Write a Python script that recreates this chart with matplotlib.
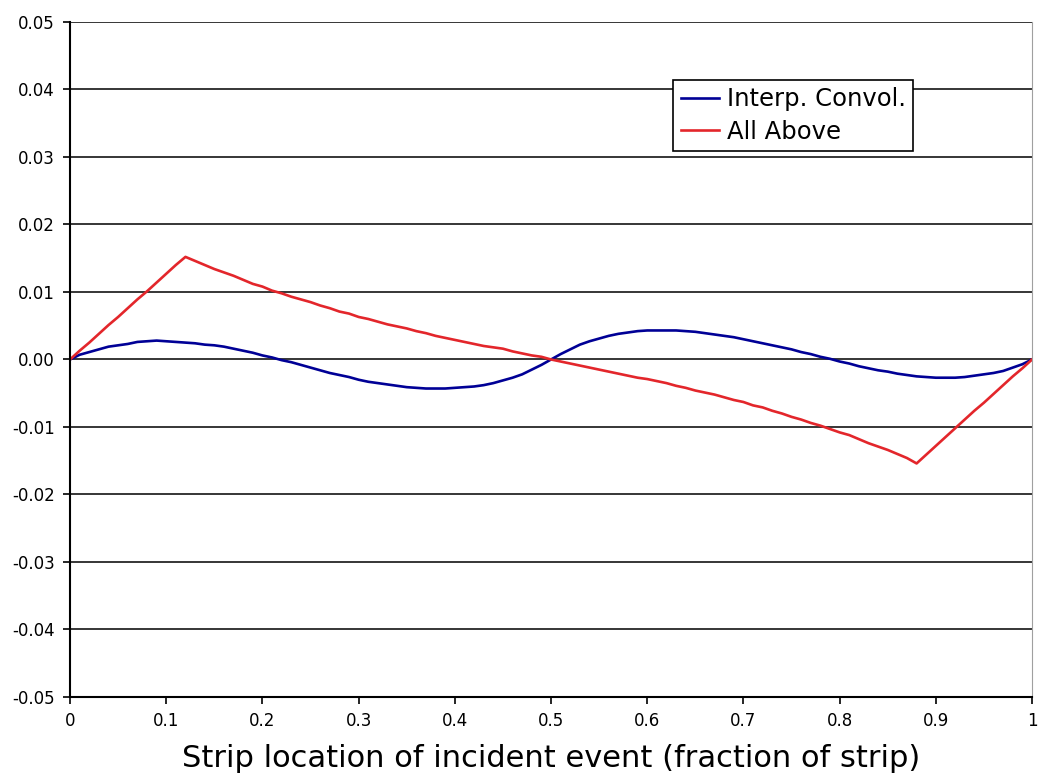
import numpy as np
from matplotlib import pyplot as plt

# fraction of strip, sampled every 0.01
x = np.round(np.arange(101) * 0.01, 2)

# Interp. Convol. residual
interp_convol = [
    0.0, 0.0007, 0.0011, 0.0015, 0.0019, 0.0021, 0.0023, 0.0026, 0.0027, 0.0028,
    0.0027, 0.0026, 0.0025, 0.0024, 0.0022, 0.0021, 0.0019, 0.0016, 0.0013, 0.0010,
    0.0006, 0.0003, -0.0001, -0.0004, -0.0008, -0.0012, -0.0016, -0.0020, -0.0023, -0.0026,
    -0.0030, -0.0033, -0.0035, -0.0037, -0.0039, -0.0041, -0.0042, -0.0043, -0.0043, -0.0043,
    -0.0042, -0.0041, -0.0040, -0.0038, -0.0035, -0.0031, -0.0027, -0.0022, -0.0015, -0.0008,
    0.0, 0.0008, 0.0015, 0.0022, 0.0027, 0.0031, 0.0035, 0.0038, 0.0040, 0.0042,
    0.0043, 0.0043, 0.0043, 0.0043, 0.0042, 0.0041, 0.0039, 0.0037, 0.0035, 0.0033,
    0.0030, 0.0027, 0.0024, 0.0021, 0.0018, 0.0015, 0.0011, 0.0008, 0.0004, 0.0001,
    -0.0003, -0.0006, -0.0010, -0.0013, -0.0016, -0.0018, -0.0021, -0.0023, -0.0025, -0.0026,
    -0.0027, -0.0027, -0.0027, -0.0026, -0.0024, -0.0022, -0.0020, -0.0017, -0.0012, -0.0007,
    0.0,
]

# All Above residual
all_above = [
    0.0, 0.0013, 0.0025, 0.0038, 0.0051, 0.0063, 0.0076, 0.0089, 0.0101, 0.0114,
    0.0127, 0.0140, 0.0152, 0.0146, 0.0140, 0.0134, 0.0129, 0.0124, 0.0118, 0.0112,
    0.0108, 0.0102, 0.0098, 0.0093, 0.0089, 0.0085, 0.0080, 0.0076, 0.0071, 0.0068,
    0.0063, 0.0060, 0.0056, 0.0052, 0.0049, 0.0046, 0.0042, 0.0039, 0.0035, 0.0032,
    0.0029, 0.0026, 0.0023, 0.0020, 0.0018, 0.0016, 0.0012, 0.0009, 0.0006, 0.0004,
    0.0, -0.0003, -0.0006, -0.0009, -0.0012, -0.0015, -0.0018, -0.0021, -0.0024, -0.0027,
    -0.0029, -0.0032, -0.0035, -0.0039, -0.0042, -0.0046, -0.0049, -0.0052, -0.0056, -0.0060,
    -0.0063, -0.0068, -0.0071, -0.0076, -0.0080, -0.0085, -0.0089, -0.0094, -0.0098, -0.0103,
    -0.0108, -0.0112, -0.0118, -0.0124, -0.0129, -0.0134, -0.0140, -0.0146, -0.0154, -0.0141,
    -0.0128, -0.0115, -0.0102, -0.0089, -0.0076, -0.0064, -0.0051, -0.0038, -0.0025, -0.0013,
    0.0,
]

xticks = [0, 0.1, 0.2, 0.3, 0.4, 0.5, 0.6, 0.7, 0.8, 0.9, 1]
xtick_labels = ["0", "0.1", "0.2", "0.3", "0.4", "0.5", "0.6", "0.7", "0.8", "0.9", "1"]
yticks = np.round(np.arange(-0.05, 0.0501, 0.01), 2)
ytick_labels = [f"{v:.2f}".replace("-0.00", "0.00") for v in yticks]

plt.rcParams['font.family'] = ['DejaVu Sans']

fig = plt.figure(figsize=(10.5, 7.82), dpi=100)
ax = fig.add_axes([0.0667, 0.1087, 0.9162, 0.8632])

ax.plot(x, interp_convol, color='#000096', lw=1.9, label='Interp. Convol.')
ax.plot(x, all_above, color='#E3262B', lw=1.9, label='All Above')

ax.set_xlim(0, 1)
ax.set_ylim(-0.05, 0.05)
ax.set_xticks(xticks)
ax.set_xticklabels(xtick_labels, fontsize=12)
ax.set_yticks(yticks)
ax.set_yticklabels(ytick_labels, fontsize=12)
ax.tick_params(direction='out', length=5, width=1.2, pad=6)

ax.yaxis.grid(True, color='black', lw=1.1)
ax.set_axisbelow(True)

ax.spines['top'].set_visible(False)
ax.spines['right'].set_color('#a0a0a0')
ax.spines['left'].set_linewidth(1.5)
ax.spines['bottom'].set_linewidth(1.5)

ax.set_xlabel('Strip location of incident event (fraction of strip)', fontsize=22, labelpad=10)

leg = ax.legend(loc='upper left', bbox_to_anchor=(0.627, 0.914), fontsize=17.5,
                frameon=True, fancybox=False, framealpha=1, edgecolor='black',
                handlelength=1.6, borderpad=0.3, labelspacing=0.35, handletextpad=0.3,
                borderaxespad=0)
leg.get_frame().set_linewidth(1.2)

fig.savefig('out.png', dpi=100)
